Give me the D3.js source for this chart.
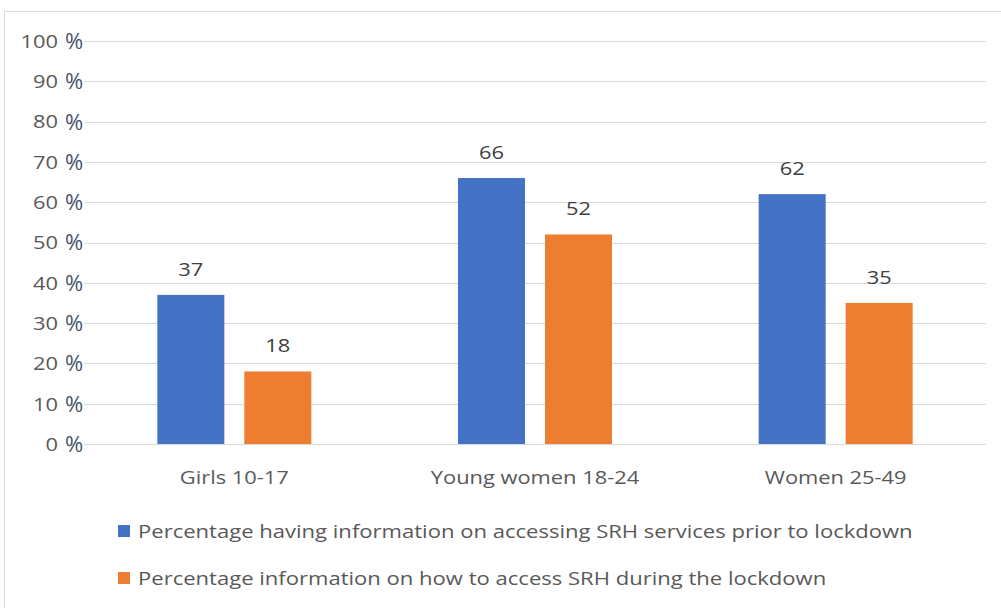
<!DOCTYPE html>
<html>
<head>
<meta charset="utf-8">
<script src="https://cdn.jsdelivr.net/npm/d3@7"></script>
<style>
  html, body { margin: 0; padding: 0; background: #fff; }
  svg { display: block; font-family: "Open Sans", "Noto Sans", sans-serif; }
</style>
</head>
<body>
<svg id="chart" width="1001" height="608"></svg>
<script>
const categories = ["Girls 10-17", "Young women 18-24", "Women 25-49"];
const seriesNames = [
  "Percentage having information on accessing SRH services prior to lockdown",
  "Percentage information on how to access SRH during the lockdown"
];
const priorValues = [37, 66, 62];
const duringValues = [18, 52, 35];
const yTicks = [0, 10, 20, 30, 40, 50, 60, 70, 80, 90, 100];
const colors = ["#4472C4", "#ED7D31"];

const svg = d3.select("#chart");
const W = 1001, H = 608;
const FS = 19;        // base font size
const STRETCH = 1.15; // wide letterforms

// widen a text selection horizontally by a fixed factor
function widen(sel, k) {
  sel.each(function () {
    const w = this.getComputedTextLength();
    d3.select(this).attr("textLength", w * k).attr("lengthAdjust", "spacingAndGlyphs");
  });
}

// outer frame
svg.append("rect")
  .attr("x", 4.5).attr("y", 11.5)
  .attr("width", W).attr("height", H)
  .attr("fill", "#fff").attr("stroke", "#D9D9D9").attr("stroke-width", 1);

const plot = { left: 84, right: 986, top: 41, bottom: 444 };

const x0 = d3.scaleBand().domain(categories).range([plot.left, plot.right]);
const y = d3.scaleLinear().domain([0, 100]).range([plot.bottom, plot.top]);

// gridlines
svg.append("g").selectAll("line").data(yTicks).join("line")
  .attr("x1", plot.left).attr("x2", plot.right)
  .attr("y1", d => Math.round(y(d)) + 0.5).attr("y2", d => Math.round(y(d)) + 0.5)
  .attr("stroke", "#D9D9D9").attr("stroke-width", 1);

// y tick labels: number in grey, percent sign larger in slate
const yAxis = svg.append("g");
const nums = yAxis.selectAll("text.num").data(yTicks).join("text")
  .attr("class", "num")
  .attr("x", 58).attr("y", d => y(d)).attr("dy", "0.36em")
  .attr("text-anchor", "end").attr("font-size", FS).attr("fill", "#595959")
  .text(d => d);
widen(nums, STRETCH);
yAxis.selectAll("text.pct").data(yTicks).join("text")
  .attr("class", "pct")
  .attr("x", 65).attr("y", d => y(d)).attr("dy", "0.36em")
  .attr("font-size", 22).attr("fill", "#44546A")
  .text("%");

// bars
const barW = 67, gap = 20;
const series = [priorValues, duringValues];
series.forEach((vals, si) => {
  const g = svg.append("g");
  const bx = (i) => x0(categories[i]) + x0.bandwidth() / 2 + (si === 0 ? -(gap / 2 + barW) : gap / 2);
  g.selectAll("rect").data(vals).join("rect")
    .attr("x", (d, i) => bx(i))
    .attr("y", d => y(d))
    .attr("width", barW)
    .attr("height", d => y(0) - y(d))
    .attr("fill", colors[si]);
  const lbl = g.selectAll("text").data(vals).join("text")
    .attr("x", (d, i) => bx(i) + barW / 2)
    .attr("y", d => y(d) - 19)
    .attr("text-anchor", "middle").attr("font-size", FS).attr("fill", "#404040")
    .text(d => d);
  widen(lbl, STRETCH);
});

// category labels
const cat = svg.append("g").selectAll("text").data(categories).join("text")
  .attr("x", d => x0(d) + x0.bandwidth() / 2)
  .attr("y", 484)
  .attr("text-anchor", "middle").attr("font-size", FS).attr("fill", "#595959")
  .text(d => d);
widen(cat, STRETCH);

// legend
const lg = svg.append("g").selectAll("g").data(seriesNames).join("g")
  .attr("transform", (d, i) => `translate(118, ${531 + i * 47})`);
lg.append("rect").attr("x", 0).attr("y", -6).attr("width", 12).attr("height", 12)
  .attr("fill", (d, i) => colors[i]);
const lt = lg.append("text").attr("x", 20).attr("y", 0).attr("dy", "0.36em")
  .attr("font-size", FS).attr("fill", "#595959")
  .text(d => d);
widen(lt, 1.16);
</script>
</body>
</html>
